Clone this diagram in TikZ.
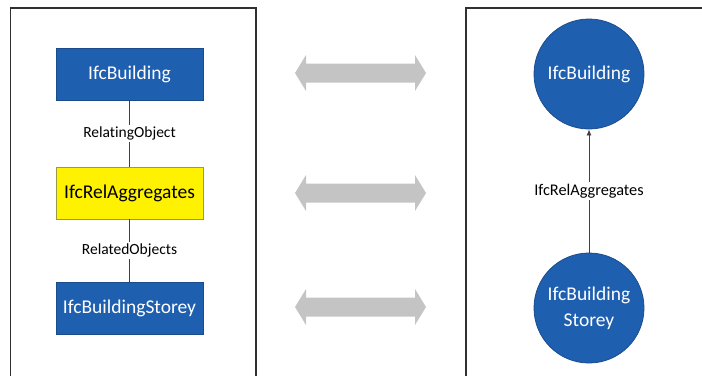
\documentclass[tikz,border=0pt]{standalone}
\usepackage{fontspec}
\setmainfont{Carlito}[Ligatures=NoCommon]
\usetikzlibrary{arrows.meta}
\definecolor{ifcblue}{HTML}{1F5FAF}
\definecolor{ifcblueedge}{HTML}{1A4C8C}
\definecolor{ifcyellow}{HTML}{FFF200}
\definecolor{ifcyellowedge}{HTML}{9A9A40}
\definecolor{framegray}{HTML}{303030}
\definecolor{arrowgray}{HTML}{C4C4C4}
\tikzset{
  bluebox/.style={draw=ifcblueedge, line width=0.8bp, fill=ifcblue, text=white,
    minimum width=147bp, minimum height=52bp, inner sep=0pt, font=\fontsize{19.5bp}{22bp}\selectfont},
  yellowbox/.style={bluebox, draw=ifcyellowedge, fill=ifcyellow, text=black},
  bluecircle/.style={circle, draw=ifcblueedge, line width=0.8bp, fill=ifcblue, text=white,
    minimum size=110bp, inner sep=0pt, align=center, font=\fontsize{19.5bp}{26bp}\selectfont},
  rellabel/.style={fill=white, inner sep=2bp, font=\fontsize{15.5bp}{18bp}\selectfont},
  rellabelr/.style={rellabel, font=\fontsize{16.3bp}{18bp}\selectfont},
  link/.style={draw=black!75, line width=0.8bp},
  framestyle/.style={draw=framegray, line width=1.2bp},
  dblarrow/.style={fill=arrowgray, draw=none}
}
\begin{document}
\begin{tikzpicture}[x=1bp, y=-1bp]
\useasboundingbox (0,0) rectangle (702,375);
% frames
\draw[framestyle] (10.5,376) -- (10.5,8) -- (256,8) -- (256,376);
\draw[framestyle] (466,376) -- (466,8) -- (703,8);
% left diagram
\node[bluebox] (bld) at (129.5,74) {IfcBuilding};
\node[yellowbox] (rel) at (129.5,193) {IfcRelAggregates};
\node[bluebox] (sto) at (129.5,308) {IfcBuildingStorey};
\draw[link] (bld) -- node[rellabel] {RelatingObject} (rel);
\draw[link] (rel) -- node[rellabel] {RelatedObjects} (sto);
% middle double arrows
\foreach \yy in {73,193,307} {
  \fill[dblarrow] (295,\yy) -- (306,\yy-18) -- (306,\yy-9.5) -- (415,\yy-9.5) -- (415,\yy-18)
    -- (426,\yy) -- (415,\yy+18) -- (415,\yy+9.5) -- (306,\yy+9.5) -- (306,\yy+18) -- cycle;
}
% right diagram
\node[bluecircle] (cb) at (589,74) {IfcBuilding};
\node[bluecircle] (cs) at (589,308) {IfcBuilding\\Storey};
\draw[link, -{Latex[length=6bp,width=5bp]}] (cs) -- node[rellabelr] {IfcRelAggregates} (cb);
\end{tikzpicture}
\end{document}
